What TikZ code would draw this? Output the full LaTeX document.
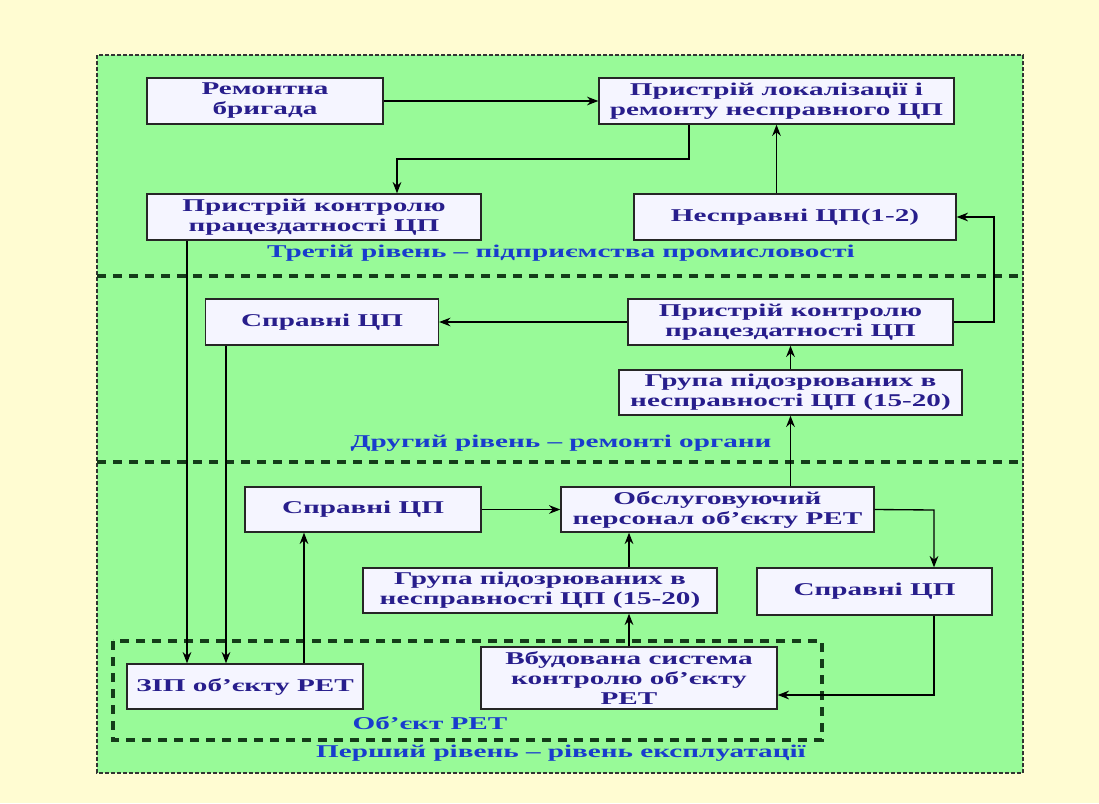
\documentclass[tikz,border=0pt]{standalone}
\usepackage{fontspec}
\setmainfont{Liberation Serif}[FakeStretch=1.62]
\usetikzlibrary{arrows.meta}

\definecolor{bgyellow}{RGB}{255,252,210}
\definecolor{levelgreen}{RGB}{152,250,152}
\definecolor{boxtext}{RGB}{40,30,140}
\definecolor{leveltext}{RGB}{25,60,205}
\definecolor{sepline}{RGB}{20,60,25}

\tikzset{every picture/.style={line width=0.75pt}}
\tikzset{
  blok/.style={draw=black!85, fill=white!96!blue, line width=1pt, text=boxtext,
    font=\bfseries\fontsize{13.5}{15}\selectfont, align=center, inner sep=0pt},
  wh/.style 2 args={minimum width=#1*0.75pt, minimum height=#2*0.75pt},
  rivlabel/.style={text=leveltext, font=\bfseries\fontsize{13.5}{15}\selectfont},
  strl/.style={-{Stealth[length=8.5pt,width=6.5pt]}, line width=1pt},
  sep/.style={sepline, line width=2.6pt, dash pattern=on 7pt off 5pt}
}

\begin{document}
\begin{tikzpicture}[x=0.75pt,y=0.75pt,yscale=-1,xscale=1]
	%set diagram to 1099 x 803
	\fill[bgyellow] (0,0) rectangle (1099,803);
	
	%Shape: Rectangle (levels area)
	\draw[fill=levelgreen, draw=black!80, line width=1pt, dash pattern=on 3pt off 1.5pt] (97,55) rectangle (1023,773);
	%Straight Lines (level borders)
	\draw[sep] (97,276) -- (1023,276);
	\draw[sep] (97,462) -- (1023,462);
	%Shape: Rectangle (object)
	\draw[sep] (113,641) rectangle (822,740);
	
	% Text Node
	\node[blok, wh={236}{46}] (brigada) at (265,101) {Ремонтна\\бригада};
	% Text Node
	\node[blok, wh={355}{46}] (lokaliz) at (776.5,101) {Пристрій локалізації і\\ремонту несправного ЦП};
	% Text Node
	\node[blok, wh={334}{46}] (kontrol3) at (314,217) {Пристрій контролю\\працездатності ЦП};
	% Text Node
	\node[blok, wh={322}{46}] (nespr) at (795,217) {Несправні ЦП(1-2)};
	% Text Node
	\node[blok, wh={233}{46}] (spravn2) at (322,322) {Справні ЦП};
	% Text Node
	\node[blok, wh={325}{46}] (kontrol2) at (790.5,322) {Пристрій контролю\\працездатності ЦП};
	% Text Node
	\node[blok, wh={343}{45}] (grupa2) at (790.5,392.5) {Група підозрюваних в\\несправності ЦП (15-20)};
	% Text Node
	\node[blok, wh={236}{45}] (spravn1) at (363,509.5) {Справні ЦП};
	% Text Node
	\node[blok, wh={313}{45}] (obsl) at (717.5,509.5) {Обслуговуючий\\персонал об’єкту РЕТ};
	% Text Node
	\node[blok, wh={235}{47}] (spravn1r) at (874.5,591.5) {Справні ЦП};
	% Text Node
	\node[blok, wh={354}{45}] (grupa1) at (540,590.5) {Група підозрюваних в\\несправності ЦП (15-20)};
	% Text Node
	\node[blok, wh={296}{62}] (vbud) at (629,678) {Вбудована система\\контролю об’єкту\\РЕТ};
	% Text Node
	\node[blok, wh={236}{45}] (zip) at (245,686.5) {ЗІП об’єкту РЕТ};
	
	% Text Node
	\node[rivlabel] (riven3) at (561,253) {Третій рівень – підприємства промисловості};
	% Text Node
	\node[rivlabel] (riven2) at (561,443) {Другий рівень – ремонті органи};
	% Text Node
	\node[rivlabel] (obekt) at (430,723) {Об’єкт РЕТ};
	% Text Node
	\node[rivlabel] (riven1) at (561,753) {Перший рівень – рівень експлуатації};
	
	\coordinate (lk) at (689,159);
	\coordinate (lk2) at (397,159);
	\coordinate (kn) at (994,217);
	\coordinate (os) at (934,510);
	\coordinate (sv) at (934,695);
	\coordinate (kz) at (187,664);
	\coordinate (sz) at (226,664);
	\coordinate (zs) at (304,600);
	
	%Straight Lines
	\draw[strl] (brigada) -- (lokaliz);
	\draw[strl] (lokaliz.south -| lk) -- (lk) -- (lk2) -- (kontrol3.north -| lk2);
	\draw[strl] (nespr.north -| lokaliz.south) -- (lokaliz.south);
	\draw[strl] (kontrol2.east) -| (kn) -- (nespr.east);
	\draw[strl] (kontrol2.west) -- (spravn2.east);
	\draw[strl] (grupa2.north) -- (kontrol2.south);
	\draw[strl] (obsl.north -| grupa2.south) -- (grupa2.south);
	\draw[strl] (spravn1.east) -- (obsl.west);
	\draw[strl] (obsl.east) -- (os) -- (spravn1r.north -| os);
	\draw[strl] (spravn1r.south -| sv) -- (sv) -- (vbud.east |- sv);
	\draw[strl] (vbud.north) -- (grupa1.south -| vbud.north);
	\draw[strl] (grupa1.north -| vbud.north) -- (obsl.south -| vbud.north);
	\draw[strl] (kontrol3.south -| kz) -- (zip.north -| kz);
	\draw[strl] (spravn2.south -| sz) -- (zip.north -| sz);
	\draw[strl] (zip.north -| zs) -- (spravn1.south -| zs);
	
\end{tikzpicture}
\end{document}
